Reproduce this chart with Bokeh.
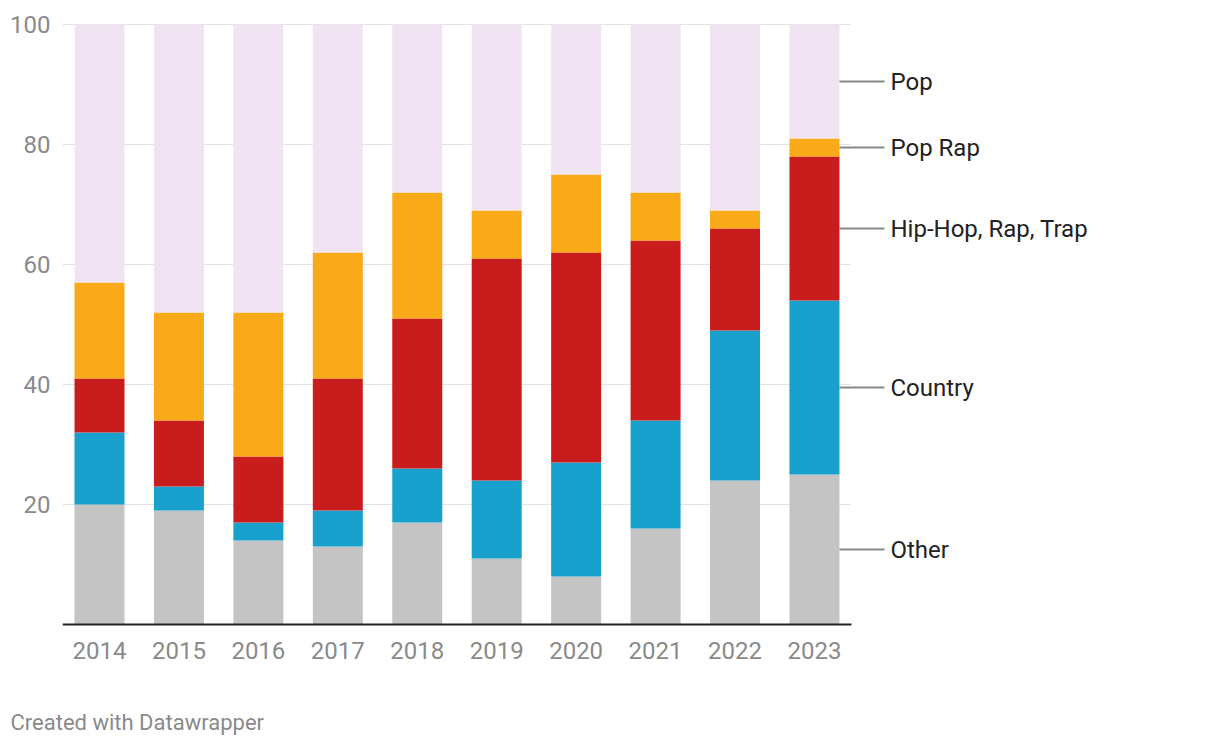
from bokeh.plotting import figure
from bokeh.models import Range1d, FixedTicker, Title
from bokeh.core.properties import value
from bokeh.embed import file_html
from bokeh.resources import INLINE

# ---- data ----
years = [2014, 2015, 2016, 2017, 2018, 2019, 2020, 2021, 2022, 2023]
other = [20, 19, 14, 13, 17, 11, 8, 16, 24, 25]
country = [12, 4, 3, 6, 9, 13, 19, 18, 25, 29]
hiphop = [9, 11, 11, 22, 25, 37, 35, 30, 17, 24]
poprap = [16, 18, 24, 21, 21, 8, 13, 8, 3, 3]
pop = [43, 48, 48, 38, 28, 31, 25, 28, 31, 19]
series_names = ["Other", "Country", "Hip-Hop, Rap, Trap", "Pop Rap", "Pop"]
series_colors = ["#c4c4c4", "#18a1cd", "#c91d1d", "#f9aa18", "#f1e4f2"]
y_ticks = [20, 40, 60, 80, 100]
credit = "Created with Datawrapper"

# ---- layout (pixels) ----
px_per_year = 79.44
frame_w = 1150
frame_h = 606
px_per_unit = 6.0
bar_px = 50
first_bar_offset = 37      # frame left to first bar centre
grid_px = 788              # gridline length
x_start = years[0] - first_bar_offset / px_per_year
x_end = x_start + frame_w / px_per_year
grid_end = x_start + grid_px / px_per_year
bar_w = bar_px / px_per_year
y_lo = -4 / px_per_unit
y_hi = y_lo + frame_h / px_per_unit

FONT = "Roboto"

p = figure(frame_width=frame_w, frame_height=frame_h,
           x_range=Range1d(x_start, x_end), y_range=Range1d(y_lo, y_hi),
           output_backend="svg", toolbar_location=None,
           min_border_left=62, min_border_right=0, min_border_top=22,
           min_border_bottom=100)
p.outline_line_color = None
p.xgrid.grid_line_color = None
p.ygrid.grid_line_color = None

# gridlines
p.segment(x0=[x_start] * len(y_ticks), x1=[grid_end] * len(y_ticks),
          y0=y_ticks, y1=y_ticks, line_color="#e3e3e3", line_width=1)

# stacked bars
data = {"years": years, "Other": other, "Country": country,
        "Hip-Hop, Rap, Trap": hiphop, "Pop Rap": poprap, "Pop": pop}
p.vbar_stack(series_names, x="years", width=bar_w, color=series_colors,
             line_color=None, source=data)

# baseline
p.segment(x0=[x_start], x1=[grid_end + 1 / px_per_year], y0=[0], y1=[0],
          line_color="#222222", line_width=2)

# right-side labels at the midpoints of the last bar's segments
last = [other[-1], country[-1], hiphop[-1], poprap[-1], pop[-1]]
mids = []
acc = 0
for v in last:
    mids.append(acc + v / 2)
    acc += v
lx0 = years[-1] + bar_w / 2
lx1 = lx0 + 45 / px_per_year
tx = lx1 + 6 / px_per_year
p.segment(x0=[lx0] * 5, x1=[lx1] * 5, y0=mids, y1=mids,
          line_color="#888888", line_width=2)
p.text(x=[tx] * 5, y=mids, text=series_names, text_font=value(FONT),
       text_font_size="24px", text_color="#222222",
       text_baseline="middle", text_align="left")

# axes
p.yaxis.ticker = FixedTicker(ticks=y_ticks)
p.yaxis.axis_line_color = None
p.yaxis.major_tick_line_color = None
p.yaxis.minor_tick_line_color = None
p.yaxis.major_label_standoff = 6
p.yaxis.major_label_text_font = FONT
p.yaxis.major_label_text_font_size = "24px"
p.yaxis.major_label_text_color = "#8a8a8a"

p.xaxis.ticker = FixedTicker(ticks=years)
p.xaxis.axis_line_color = None
p.xaxis.major_tick_line_color = None
p.xaxis.minor_tick_line_color = None
p.xaxis.major_label_standoff = 7
p.xaxis.major_label_text_font = FONT
p.xaxis.major_label_text_font_size = "24px"
p.xaxis.major_label_text_color = "#8a8a8a"

p.add_layout(Title(text=credit, align="left", offset=-52, standoff=93,
                   text_font=FONT, text_font_size="22px",
                   text_font_style="normal", text_color="#8a8a8a"), "below")

open("out.html", "w").write(file_html(p, INLINE))
